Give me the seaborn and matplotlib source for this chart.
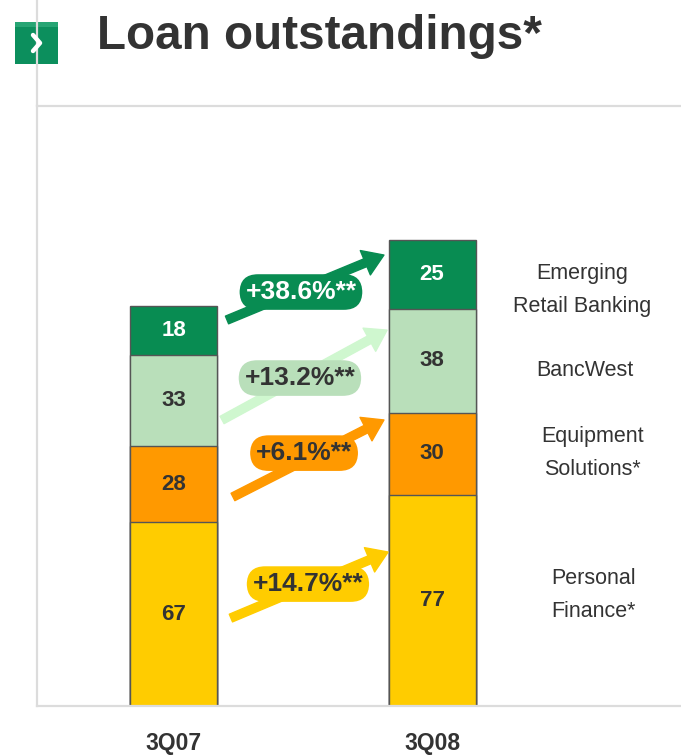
import matplotlib
matplotlib.use("Agg")
import matplotlib.pyplot as plt
import seaborn as sns
import pandas as pd
from matplotlib.patches import Rectangle
from matplotlib.lines import Line2D

# data (bn euros), segments listed bottom to top
quarters = ["3Q07", "3Q08"]
segment_names = ["Personal\nFinance*", "Equipment\nSolutions*", "BancWest", "Emerging\nRetail Banking"]
personal_finance = [67, 77]
equipment_solutions = [28, 30]
bancwest = [33, 38]
emerging_retail = [18, 25]
growth_labels = ["+14.7%**", "+6.1%**", "+13.2%**", "+38.6%**"]

seg_colors = ["#ffcc00", "#ff9900", "#b9dfba", "#088c52"]
arrow_colors = ["#ffcc00", "#ff9900", "#cff7cf", "#088c52"]
value_colors = ["#333333", "#333333", "#333333", "white"]

# annotation layout (data coords)
arrow_tail = [(0.222, 32.1), (0.230, 76.3), (0.188, 104.4), (0.207, 140.9)]
arrow_head = [(0.830, 56.2), (0.814, 104.4), (0.826, 137.2), (0.814, 164.6)]
badge_pos = [(0.520, 44.5), (0.505, 92.3), (0.489, 119.7), (0.493, 151.1)]
seg_label_pos = [(1.623, 40.5), (1.619, 92.3), (1.590, 122.6), (1.582, 151.8)]

sns.set_style("white")
plt.rcParams['font.family'] = ['Liberation Sans', 'DejaVu Sans']

df = pd.DataFrame({
    "quarter": quarters,
    "pf": personal_finance,
    "es": equipment_solutions,
    "bw": bancwest,
    "erb": emerging_retail,
})
cols = ["pf", "es", "bw", "erb"]
cum = df[cols].cumsum(axis=1)

fig = plt.figure(figsize=(6.81, 7.56), dpi=100)
ax = fig.add_axes([37/681, 50/756, 644/681, 600/756])

bar_w = 87/258.5
for i in reversed(range(len(cols))):
    sns.barplot(x=df["quarter"], y=cum[cols[i]], color=seg_colors[i], saturation=1,
                width=bar_w, edgecolor="#555555", linewidth=1, ax=ax)

for i, c in enumerate(cols):
    mids = cum[c] - df[c] / 2
    for j in range(len(quarters)):
        ax.text(j, mids[j], str(df[c][j]), ha="center", va="center", fontsize=16,
                fontweight="bold", color=value_colors[i])

# growth arrows with badges
for i in range(len(cols)):
    ax.annotate("", xy=arrow_head[i], xytext=arrow_tail[i],
                arrowprops=dict(arrowstyle="simple,head_length=1.45,head_width=1.9,tail_width=0.6",
                                color=arrow_colors[i], mutation_scale=10, shrinkA=0, shrinkB=0),
                zorder=3)
    ax.text(badge_pos[i][0], badge_pos[i][1], growth_labels[i], ha="center", va="center",
            fontsize=19, fontweight="bold", color=value_colors[i], zorder=4,
            bbox=dict(boxstyle="round,pad=0.22,rounding_size=0.7", fc=seg_colors[i], ec="none"))

for i, name in enumerate(segment_names):
    ax.text(seg_label_pos[i][0], seg_label_pos[i][1], name, ha="center", va="center",
            fontsize=15.5, color="#333333", linespacing=1.75)

ax.set_xlim(-0.528, 1.963)
ax.set_ylim(0, 219)
ax.set_yticks([])
ax.set_xlabel("")
ax.set_ylabel("")
ax.tick_params(axis="x", length=0, pad=19, labelsize=16.5, labelcolor="#333333")
for lbl in ax.get_xticklabels():
    lbl.set_fontweight("bold")
for s in ["left", "top", "bottom"]:
    ax.spines[s].set_color("#dcdcdc")
    ax.spines[s].set_linewidth(1.6)
ax.spines["right"].set_visible(False)

# frame line above the plot area
fig.add_artist(Line2D([37/681, 37/681], [1, 1 - 106/756], color="#dcdcdc", lw=1.6,
                      transform=fig.transFigure))

# header icon and title
fig.add_artist(Rectangle((15/681, 1 - 64/756), 43/681, 42/756, transform=fig.transFigure,
                         facecolor="#0c8f5d", edgecolor="none"))
fig.add_artist(Rectangle((15/681, 1 - 27/756), 43/681, 5/756, transform=fig.transFigure,
                         facecolor="#27a574", edgecolor="none"))
fig.add_artist(Line2D([33/681, 40/681, 33/681], [1 - 35/756, 1 - 43/756, 1 - 51/756],
                      color="white", lw=3.2, transform=fig.transFigure))
fig.text(97/681, 1 - 49/756, "Loan outstandings*", fontsize=34.3, fontweight="bold",
         color="#333333", ha="left", va="baseline")

fig.savefig("out.png", dpi=100)
